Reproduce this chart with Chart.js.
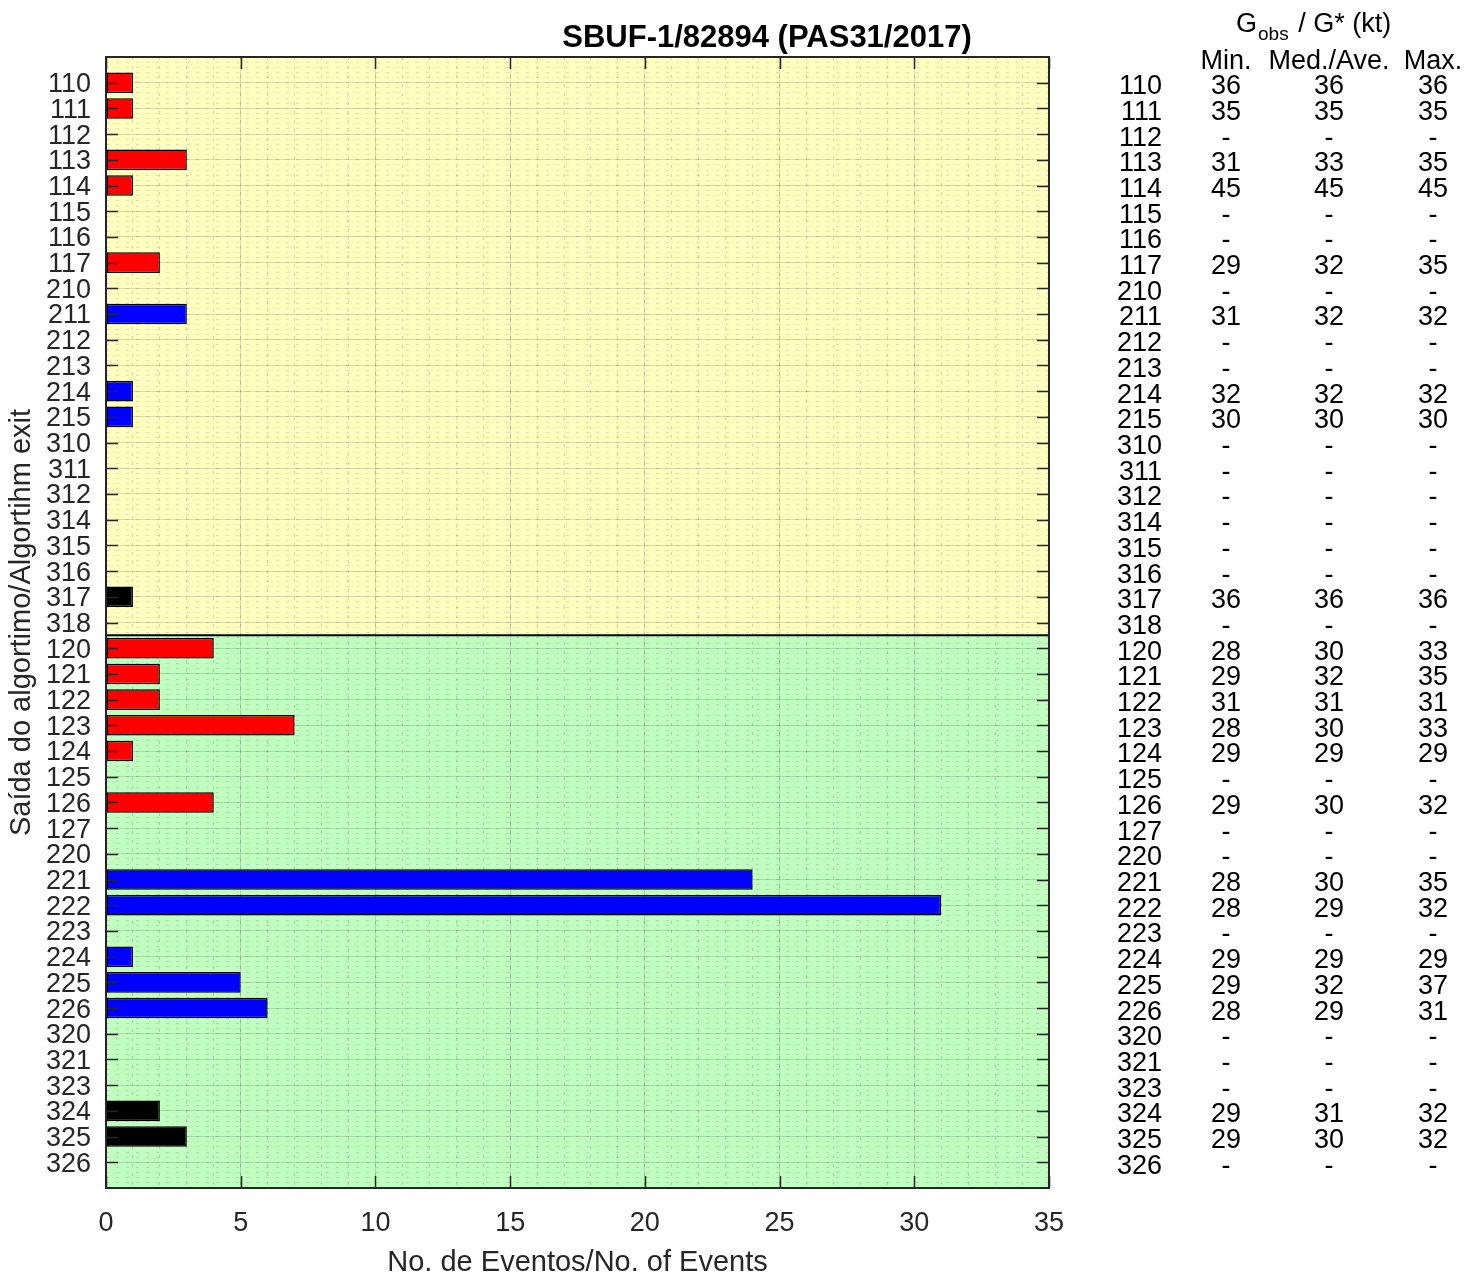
<!DOCTYPE html>
<html>
<head>
<meta charset="utf-8">
<script src="https://cdn.jsdelivr.net/npm/chart.js@4.4.0/dist/chart.umd.min.js"></script>
<style>
  html, body { margin: 0; padding: 0; background: #fff; }
  #wrap { width: 1479px; height: 1280px; }
</style>
</head>
<body>
<div id="wrap"><canvas id="chart" width="1479" height="1280"></canvas></div>
<script>
// Algorithm exits, top to bottom
const categories = [
  '110', '111', '112', '113', '114', '115', '116', '117',
  '210', '211', '212', '213', '214', '215',
  '310', '311', '312', '314', '315', '316', '317', '318',
  '120', '121', '122', '123', '124', '125', '126', '127',
  '220', '221', '222', '223', '224', '225', '226',
  '320', '321', '323', '324', '325', '326'
];

// No. of events per exit
const events = [
  1, 1, 0, 3, 1, 0, 0, 2,
  0, 3, 0, 0, 1, 1,
  0, 0, 0, 0, 0, 0, 1, 0,
  4, 2, 2, 7, 1, 0, 4, 0,
  0, 24, 31, 0, 1, 5, 6,
  0, 0, 0, 2, 3, 0
];

// Gobs / G* (kt), null = no events
const gustMin = [
  36, 35, null, 31, 45, null, null, 29,
  null, 31, null, null, 32, 30,
  null, null, null, null, null, null, 36, null,
  28, 29, 31, 28, 29, null, 29, null,
  null, 28, 28, null, 29, 29, 28,
  null, null, null, 29, 29, null
];
const gustMed = [
  36, 35, null, 33, 45, null, null, 32,
  null, 32, null, null, 32, 30,
  null, null, null, null, null, null, 36, null,
  30, 32, 31, 30, 29, null, 30, null,
  null, 30, 29, null, 29, 32, 29,
  null, null, null, 31, 30, null
];
const gustMax = [
  36, 35, null, 35, 45, null, null, 35,
  null, 32, null, null, 32, 30,
  null, null, null, null, null, null, 36, null,
  33, 35, 31, 33, 29, null, 32, null,
  null, 35, 32, null, 29, 37, 31,
  null, null, null, 32, 32, null
];

const xTickStep = 5;
const xMax = 35;
const tableHeaders = ['Min.', 'Med./Ave.', 'Max.'];

const FONT = "'Liberation Sans', Arial, sans-serif";
const groupColors = { '1': '#ff0000', '2': '#0000ff', '3': '#000000' };

// first exit of the second block (green area)
const splitIndex = categories.indexOf('120') - 0.5;

const barData = categories
  .map((c, i) => ({ x: events[i], y: i, cat: c }))
  .filter(p => p.x > 0);

const panelPlugin = {
  id: 'panelPlugin',
  beforeDraw(chart) {
    const { ctx, chartArea: a } = chart;
    const split = chart.scales.y.getPixelForValue(splitIndex);
    ctx.save();
    ctx.fillStyle = '#ffffff';
    ctx.fillRect(0, 0, chart.width, chart.height);
    ctx.fillStyle = '#ffffc0';
    ctx.fillRect(a.left, a.top, a.width, split - a.top);
    ctx.fillStyle = '#c0ffc0';
    ctx.fillRect(a.left, split, a.width, a.bottom - split);
    ctx.restore();
  },
  afterDraw(chart) {
    const { ctx, chartArea: a } = chart;
    const xs = chart.scales.x;
    const ys = chart.scales.y;
    ctx.save();

    // boundary between the two blocks
    const split = ys.getPixelForValue(splitIndex);
    ctx.strokeStyle = '#000';
    ctx.lineWidth = 2;
    ctx.beginPath();
    ctx.moveTo(a.left, split);
    ctx.lineTo(a.right, split);
    ctx.stroke();

    // inner tick marks
    ctx.strokeStyle = '#262626';
    ctx.lineWidth = 1.5;
    ctx.beginPath();
    categories.forEach((c, i) => {
      const py = Math.round(ys.getPixelForValue(i)) + 0.5;
      ctx.moveTo(a.left, py); ctx.lineTo(a.left + 12, py);
      ctx.moveTo(a.right, py); ctx.lineTo(a.right - 12, py);
    });
    xs.ticks.forEach(t => {
      const px = Math.round(xs.getPixelForValue(t.value)) + 0.5;
      ctx.moveTo(px, a.bottom); ctx.lineTo(px, a.bottom - 12);
      ctx.moveTo(px, a.top); ctx.lineTo(px, a.top + 12);
    });
    ctx.stroke();

    // frame
    ctx.lineWidth = 2;
    ctx.strokeRect(a.left, a.top, a.width, a.height);

    // title
    ctx.fillStyle = '#000';
    ctx.font = 'bold 31px ' + FONT;
    ctx.textAlign = 'center';
    ctx.textBaseline = 'alphabetic';
    ctx.fillText('SBUF-1/82894 (PAS31/2017)', 767, 47);

    // table header
    ctx.font = '27px ' + FONT;
    ctx.textAlign = 'left';
    ctx.fillText('G', 1236, 32);
    const gw = ctx.measureText('G').width;
    ctx.font = '19px ' + FONT;
    ctx.fillText('obs', 1236 + gw + 1, 40);
    const ow = ctx.measureText('obs').width;
    ctx.font = '27px ' + FONT;
    ctx.fillText(' / G* (kt)', 1236 + gw + ow + 3, 32);

    const cols = [1226, 1329, 1433];
    ctx.textAlign = 'center';
    ctx.textBaseline = 'middle';
    const headY = ys.getPixelForValue(-1) + 5;
    tableHeaders.forEach((h, k) => ctx.fillText(h, cols[k], headY));

    const series = [gustMin, gustMed, gustMax];
    categories.forEach((c, i) => {
      const py = ys.getPixelForValue(i) + 4;
      ctx.textAlign = 'right';
      ctx.fillText(c, 1162, py);
      ctx.textAlign = 'center';
      series.forEach((s, k) => {
        ctx.fillText(s[i] == null ? '-' : String(s[i]), cols[k], py);
      });
    });
    ctx.restore();
  }
};

new Chart(document.getElementById('chart'), {
  type: 'bar',
  data: {
    datasets: [{
      label: 'Eventos',
      data: barData,
      xAxisID: 'x',
      yAxisID: 'y',
      backgroundColor: ctx => groupColors[ctx.raw ? ctx.raw.cat[0] : '1'],
      borderColor: '#000',
      borderWidth: 1.5,
      borderSkipped: false,
      barPercentage: 0.8,
      categoryPercentage: 1
    }]
  },
  options: {
    indexAxis: 'y',
    responsive: false,
    animation: false,
    layout: { padding: { left: 0, top: 57, right: 430, bottom: 0 } },
    plugins: {
      legend: { display: false },
      tooltip: { enabled: false },
      title: { display: false }
    },
    scales: {
      x: {
        type: 'linear',
        position: 'bottom',
        min: 0,
        max: xMax,
        ticks: {
          stepSize: xTickStep,
          padding: 19,
          color: '#262626',
          font: { family: FONT, size: 27 }
        },
        grid: { color: 'rgba(0,0,0,0.14)', lineWidth: 1, drawTicks: false },
        border: { display: false },
        title: {
          display: true,
          text: 'No. de Eventos/No. of Events',
          color: '#262626',
          font: { family: FONT, size: 29 },
          padding: { top: 0, bottom: 0 }
        },
        afterFit(scale) { scale.height = 92; }
      },
      y: {
        type: 'linear',
        position: 'left',
        reverse: true,
        offset: false,
        min: -1,
        max: categories.length,
        ticks: {
          stepSize: 1,
          autoSkip: false,
          padding: 15,
          labelOffset: 2,
          color: '#262626',
          font: { family: FONT, size: 27 },
          callback: v => (Number.isInteger(v) && categories[v]) ? categories[v] : ''
        },
        grid: { color: 'rgba(0,0,0,0.14)', lineWidth: 1, drawTicks: false, offset: false },
        border: { display: false },
        title: {
          display: true,
          text: 'Saída do algortimo/Algortihm exit',
          color: '#262626',
          font: { family: FONT, size: 29 },
          padding: { top: 5, bottom: 0 }
        },
        afterFit(scale) { scale.width = 106; }
      },
      xMinor: {
        type: 'linear',
        position: 'top',
        min: 0,
        max: xMax,
        ticks: { display: false, stepSize: 1 },
        grid: { color: 'rgba(0,0,0,0.16)', lineWidth: 1, drawTicks: false },
        border: { display: false, dash: [3, 6] },
        afterFit(scale) { scale.height = 0; }
      },
      yMinor: {
        type: 'linear',
        position: 'right',
        reverse: true,
        offset: false,
        min: -1,
        max: categories.length,
        ticks: { display: false, stepSize: 0.2 },
        grid: { color: 'rgba(0,0,0,0.12)', lineWidth: 1, drawTicks: false, offset: false },
        border: { display: false, dash: [3, 7] },
        afterFit(scale) { scale.width = 0; }
      }
    }
  },
  plugins: [panelPlugin]
});
</script>
</body>
</html>
